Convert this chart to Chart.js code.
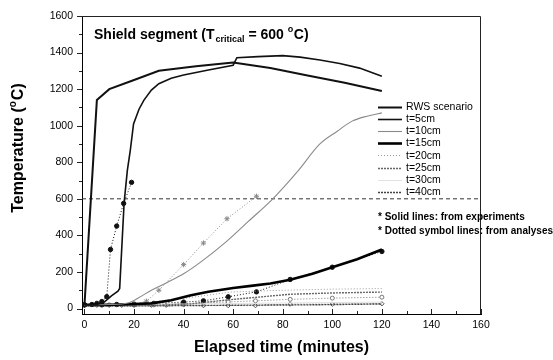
<!DOCTYPE html>
<html><head><meta charset="utf-8">
<script src="https://cdn.jsdelivr.net/npm/chart.js@4/dist/chart.umd.min.js"></script>
<style>html,body{margin:0;padding:0;background:#fff;}</style>
</head><body>
<canvas id="c" width="553" height="360"></canvas>
<script>
// ---------- data ----------
const xTickValues = [0, 20, 40, 60, 80, 100, 120, 140, 160];
const yTickValues = [0, 200, 400, 600, 800, 1000, 1200, 1400, 1600];
const criticalTemp = 600;

// experiments (solid lines, in legend)
const rwsTime = [0, 5, 10, 20, 30, 45, 60, 75, 90, 105, 120];
const rwsTemp = [20, 1140, 1200, 1250, 1300, 1325, 1345, 1315, 1275, 1235, 1190];
const t5Time = [0, 5, 8, 11, 13.5, 14.2, 16, 17.3, 18.5, 19.8, 22, 24, 27, 30, 35, 40, 50, 60, 61.5, 70, 80, 87, 95, 103, 111, 120];
const t5Temp = [20, 22, 35, 70, 95, 110, 580, 756, 866, 1010, 1090, 1140, 1195, 1230, 1260, 1277, 1305, 1331, 1372, 1378, 1383, 1375, 1359, 1340, 1315, 1271];
const t10Time = [0, 10, 17.5, 22, 27, 33, 40, 47, 57.6, 66, 76, 86, 95, 102, 108, 114, 120];
const t10Temp = [20, 22, 30, 60, 100, 140, 190, 255, 370, 475, 600, 750, 900, 970, 1025, 1052, 1070];
const t15Time = [0, 10, 20, 27, 35, 43, 50, 60, 68, 75, 83, 92, 100, 110, 120];
const t15Temp = [20, 20, 25, 28, 45, 72, 92, 112, 125, 137, 157, 190, 226, 270, 323];
const t20Time = [0, 20, 40, 59, 75, 87, 100, 120];
const t20Temp = [20, 25, 55, 90, 98, 102, 106, 109];
const t25Time = [0, 20, 30, 43, 60, 83, 100, 120];
const t25Temp = [18, 15, 18, 26, 50, 78, 85, 90];
const t30Time = [0, 40, 80, 120];
const t30Temp = [18, 25, 30, 35];
const t40Time = [0, 30, 60, 90, 120];
const t40Temp = [15, 15, 18, 20, 25];

// analyses (dotted symbol lines)
const a5Time = [0, 3, 5, 7, 9, 10.5, 13, 15.8, 19];
const a5Temp = [20, 22, 28, 38, 65, 323, 451, 575, 690];
const a10Time = [20, 25, 30, 40, 48, 57.5, 69.4];
const a10Temp = [22, 40, 100, 240, 358, 491, 614];
const a15Time = [0, 7, 13, 20, 28, 40, 48, 58, 69.4, 83, 100, 120];
const a15Temp = [20, 20, 22, 24, 28, 35, 42, 64, 91, 159, 226, 312];
const a20Time = [0, 10, 20, 28, 40, 48, 58, 69, 83, 100, 120];
const a20Temp = [20, 20, 20, 20, 27, 30, 36, 42, 50, 57, 62];
const a25Time = [0, 5, 10, 15, 20, 27, 33, 40, 48, 58, 69, 83, 100, 120];
const a25Temp = [18, 18, 18, 18, 18, 18, 18, 20, 16, 16, 16, 24, 24, 26];

const legendLabels = ['RWS scenario', 't=5cm', 't=10cm', 't=15cm', 't=20cm', 't=25cm', 't=30cm', 't=40cm'];
const titleParts = ['Shield segment (T', 'critical', ' = 600 ', 'o', 'C)'];
const notes = ['* Solid lines: from experiments', '* Dotted symbol lines: from analyses'];
const xTitle = 'Elapsed time (minutes)';
const yTitleParts = ['Temperature (', 'o', 'C)'];

// ---------- chart ----------
const FONT = "'Liberation Sans', Arial, Helvetica, sans-serif";
const zip = (xs, ys) => xs.map((x, i) => ({x, y: ys[i]}));

function solid(label, xs, ys, color, width, dash) {
  return {label, inLegend: true, data: zip(xs, ys), borderColor: color, backgroundColor: color,
    borderWidth: width, borderDash: dash || [], pointRadius: 0, fill: false, tension: 0};
}
function dotted(xs, ys, color, style, filled, radius) {
  return {label: '', inLegend: false, data: zip(xs, ys), borderColor: color, borderWidth: 1,
    borderDash: [1, 2], pointStyle: style, pointRadius: radius || 2,
    pointBackgroundColor: filled ? color : '#fff', pointBorderColor: color, pointBorderWidth: 1,
    fill: false, tension: 0};
}

const datasets = [
  solid(legendLabels[0], rwsTime, rwsTemp, '#111', 2),
  solid(legendLabels[1], t5Time, t5Temp, '#111', 1.6),
  Object.assign(solid(legendLabels[2], t10Time, t10Temp, '#8a8a8a', 1.1), {cubicInterpolationMode: 'monotone'}),
  solid(legendLabels[3], t15Time, t15Temp, '#000', 2.6),
  solid(legendLabels[4], t20Time, t20Temp, '#9a9a9a', 1, [1, 2]),
  solid(legendLabels[5], t25Time, t25Temp, '#666', 1.4, [2, 1]),
  solid(legendLabels[6], t30Time, t30Temp, '#e2e2e2', 1),
  solid(legendLabels[7], t40Time, t40Temp, '#444', 1.4, [2, 1]),
  dotted(a5Time, a5Temp, '#111', 'circle', true, 2.2),
  dotted(a10Time, a10Temp, '#888', 'star', false, 2.6),
  dotted(a15Time, a15Temp, '#111', 'circle', true, 2.2),
  dotted(a20Time, a20Temp, '#777', 'circle', false, 2),
  dotted(a25Time, a25Temp, '#555', 'rectRot', false, 2.2),
  {label: '', inLegend: false, data: [{x: -1, y: criticalTemp}, {x: 160, y: criticalTemp}],
   borderColor: '#333', borderWidth: 1, borderDash: [4, 3], pointRadius: 0, fill: false}
];

function line(ctx, x1, y1, x2, y2) { ctx.beginPath(); ctx.moveTo(x1, y1); ctx.lineTo(x2, y2); ctx.stroke(); }

const decor = {
  id: 'decor',
  afterDraw(chart) {
    const ctx = chart.ctx, a = chart.chartArea, xs = chart.scales.x, ys = chart.scales.y;
    ctx.save();
    ctx.strokeStyle = '#222'; ctx.lineWidth = 1; ctx.setLineDash([]);
    // frame top / right
    ctx.beginPath();
    ctx.moveTo(a.left, a.top + 0.5); ctx.lineTo(a.right - 0.5, a.top + 0.5); ctx.lineTo(a.right - 0.5, a.bottom);
    ctx.stroke();
    // x ticks (inward), minor every 10
    for (let v = 0; v <= 160; v += 10) {
      const px = Math.round(xs.getPixelForValue(v)) + 0.5;
      line(ctx, px, a.bottom, px, a.bottom - (v % 20 === 0 ? 5 : 3));
    }
    // y ticks (outward), minor every 100
    for (let v = 0; v <= 1600; v += 100) {
      const py = Math.round(ys.getPixelForValue(v)) + 0.5;
      line(ctx, a.left, py, a.left - (v % 200 === 0 ? 5 : 3), py);
    }
    ctx.fillStyle = '#000';
    ctx.textBaseline = 'alphabetic';
    ctx.textAlign = 'left';
    // title inside plot
    let x = 94, y = 39;
    ctx.font = 'bold 14px ' + FONT; ctx.fillText(titleParts[0], x, y); x += ctx.measureText(titleParts[0]).width + 1;
    ctx.font = 'bold 9px ' + FONT; ctx.fillText(titleParts[1], x, y + 3); x += ctx.measureText(titleParts[1]).width;
    ctx.font = 'bold 14px ' + FONT; ctx.fillText(titleParts[2], x, y); x += ctx.measureText(titleParts[2]).width;
    ctx.font = 'bold 9px ' + FONT; ctx.fillText(titleParts[3], x, y - 7); x += ctx.measureText(titleParts[3]).width + 0.5;
    ctx.font = 'bold 14px ' + FONT; ctx.fillText(titleParts[4], x, y);
    // legend
    const lx = 378, lw = 24, ly0 = 106.5, step = 12.2;
    ctx.font = '10.5px ' + FONT; ctx.textBaseline = 'middle';
    chart.data.datasets.filter(d => d.inLegend).forEach((d, i) => {
      const yy = ly0 + i * step;
      ctx.save();
      ctx.strokeStyle = d.borderColor; ctx.lineWidth = d.borderWidth; ctx.setLineDash(d.borderDash || []);
      line(ctx, lx, Math.round(yy) + 0.5, lx + lw, Math.round(yy) + 0.5);
      ctx.restore();
      ctx.fillText(d.label, lx + lw + 4, yy + 0.5);
    });
    // notes
    ctx.font = 'bold 10px ' + FONT;
    ctx.fillText(notes[0], 378, 217.5);
    ctx.fillText(notes[1], 378, 231.5);
    // x title
    ctx.font = 'bold 16px ' + FONT; ctx.textAlign = 'center';
    ctx.fillText(xTitle, (a.left + a.right) / 2, 348);
    // y title (rotated)
    ctx.save();
    ctx.translate(19, 148); ctx.rotate(-Math.PI / 2);
    ctx.textAlign = 'left';
    ctx.font = 'bold 16px ' + FONT; const w0 = ctx.measureText(yTitleParts[0]).width;
    ctx.font = 'bold 10px ' + FONT; const w1 = ctx.measureText(yTitleParts[1]).width;
    ctx.font = 'bold 16px ' + FONT; const w2 = ctx.measureText(yTitleParts[2]).width;
    let tx = -(w0 + w1 + w2 + 1) / 2;
    ctx.font = 'bold 16px ' + FONT; ctx.fillText(yTitleParts[0], tx, 0); tx += w0;
    ctx.font = 'bold 10px ' + FONT; ctx.fillText(yTitleParts[1], tx, -6); tx += w1 + 1;
    ctx.font = 'bold 16px ' + FONT; ctx.fillText(yTitleParts[2], tx, 0);
    ctx.restore();
    ctx.restore();
  }
};

new Chart(document.getElementById('c'), {
  type: 'line',
  data: {datasets},
  options: {
    responsive: false, animation: false, devicePixelRatio: 1,
    layout: {padding: {left: 0, right: 72, top: 16, bottom: 0}},
    plugins: {legend: {display: false}, tooltip: {enabled: false}, title: {display: false}},
    scales: {
      x: {
        type: 'linear', min: -1, max: 160,
        grid: {display: false, drawTicks: false},
        border: {display: true, color: '#000', width: 1},
        ticks: {color: '#000', font: {family: FONT, size: 10.5}, padding: 5, maxRotation: 0,
                callback: v => String(v)},
        afterBuildTicks: s => { s.ticks = xTickValues.map(v => ({value: v})); },
        afterFit: s => { s.height = 46; }
      },
      y: {
        type: 'linear', min: -30, max: 1600,
        grid: {display: false, drawTicks: false},
        border: {display: true, color: '#000', width: 1},
        ticks: {color: '#000', font: {family: FONT, size: 10.5}, padding: 9,
                callback: v => String(v)},
        afterBuildTicks: s => { s.ticks = yTickValues.map(v => ({value: v})); },
        afterFit: s => { s.width = 82; }
      }
    }
  },
  plugins: [decor]
});
</script>
</body></html>
